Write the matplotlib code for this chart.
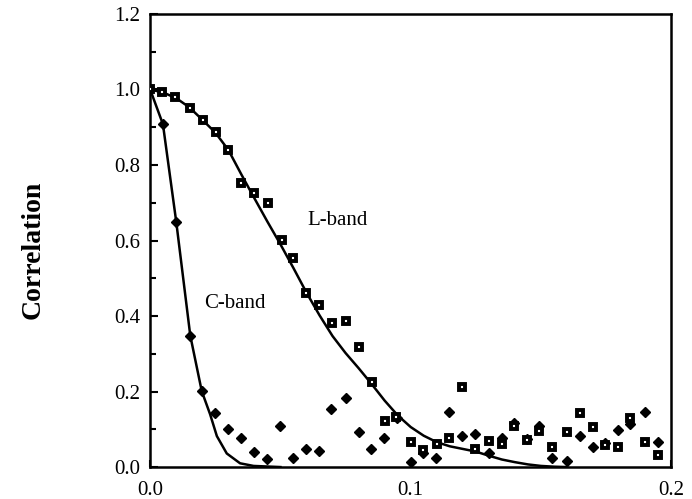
import numpy as np
import matplotlib
matplotlib.use('Agg')
import matplotlib.pyplot as plt
from matplotlib.ticker import MultipleLocator

plt.rcParams['font.family'] = ['Liberation Serif', 'DejaVu Serif']

# L-band measured correlation (squares)
l_x = [0.0, 0.0047, 0.0096, 0.0151, 0.0202, 0.0252, 0.0300, 0.0348, 0.0399, 0.0452,
       0.0505, 0.0550, 0.0598, 0.0649, 0.0697, 0.0752, 0.0800, 0.0851, 0.0900, 0.0943,
       0.1001, 0.1047, 0.1100, 0.1148, 0.1197, 0.1245, 0.1299, 0.1350, 0.1397, 0.1446,
       0.1494, 0.1544, 0.1600, 0.1648, 0.1698, 0.1747, 0.1795, 0.1843, 0.1900, 0.1949]
l_y = [1.000, 0.993, 0.981, 0.952, 0.919, 0.888, 0.841, 0.753, 0.725, 0.699,
       0.601, 0.553, 0.460, 0.429, 0.382, 0.388, 0.319, 0.226, 0.123, 0.133,
       0.067, 0.045, 0.060, 0.078, 0.211, 0.047, 0.070, 0.060, 0.109, 0.073,
       0.095, 0.052, 0.092, 0.144, 0.107, 0.058, 0.054, 0.129, 0.067, 0.032]

# C-band measured correlation (diamonds)
c_x = [0.0, 0.0049, 0.0100, 0.0154, 0.0198, 0.0250, 0.0298, 0.0348, 0.0397, 0.0450,
       0.0499, 0.0548, 0.0598, 0.0649, 0.0695, 0.0751, 0.0800, 0.0847, 0.0898, 0.0947,
       0.1001, 0.1047, 0.1098, 0.1148, 0.1197, 0.1245, 0.1299, 0.1350, 0.1397, 0.1446,
       0.1494, 0.1542, 0.1600, 0.1648, 0.1698, 0.1747, 0.1795, 0.1843, 0.1900, 0.1949]
c_y = [1.000, 0.908, 0.650, 0.348, 0.201, 0.142, 0.101, 0.076, 0.041, 0.021,
       0.109, 0.023, 0.047, 0.043, 0.153, 0.184, 0.092, 0.048, 0.076, 0.129,
       0.014, 0.037, 0.023, 0.145, 0.082, 0.087, 0.036, 0.076, 0.118, 0.075,
       0.109, 0.023, 0.017, 0.082, 0.054, 0.065, 0.098, 0.114, 0.145, 0.067]

# model curves
lc_x = [0.0, 0.005, 0.010, 0.015, 0.020, 0.025, 0.030, 0.035, 0.040, 0.045, 0.050,
        0.055, 0.060, 0.065, 0.070, 0.075, 0.080, 0.085, 0.090, 0.095, 0.100, 0.105,
        0.110, 0.115, 0.120, 0.125, 0.130, 0.135, 0.140, 0.145, 0.150, 0.155, 0.160]
lc_y = [1.000, 0.992, 0.977, 0.953, 0.920, 0.886, 0.840, 0.775, 0.712, 0.650, 0.590,
        0.527, 0.462, 0.402, 0.347, 0.302, 0.262, 0.220, 0.176, 0.137, 0.106, 0.083,
        0.066, 0.055, 0.048, 0.041, 0.030, 0.020, 0.013, 0.007, 0.003, 0.001, 0.000]
cc_x = [0.0, 0.0049, 0.0100, 0.0154, 0.0198, 0.0230, 0.0256, 0.0294, 0.0345, 0.0397, 0.0500]
cc_y = [1.000, 0.908, 0.650, 0.348, 0.201, 0.140, 0.082, 0.036, 0.010, 0.003, 0.000]

fig = plt.figure(figsize=(6.92, 4.99), dpi=100)
ax = fig.add_axes([0.217, 0.064, 0.753, 0.908])

ax.plot(lc_x, lc_y, color='black', lw=1.8, zorder=2)
ax.plot(cc_x, cc_y, color='black', lw=1.8, zorder=2)
ax.plot(c_x, c_y, linestyle='none', marker='D', ms=5.6, color='black', zorder=3)
ax.plot(l_x, l_y, linestyle='none', marker='s', ms=4.6, mfc='white', mec='black',
        mew=2.8, zorder=4)

ax.text(0.0718, 0.654, 'L-band', fontsize=15, ha='center', va='center')
ax.text(0.0326, 0.432, 'C-band', fontsize=15, ha='center', va='center')

ax.set_xlim(0, 0.2)
ax.set_ylim(0, 1.2)
ax.set_xticks([0.0, 0.1, 0.2])
ax.set_xticklabels(['0.0', '0.1', '0.2'])
ax.set_yticks(np.arange(0, 1.21, 0.2))
ax.set_yticklabels(['0.0', '0.2', '0.4', '0.6', '0.8', '1.0', '1.2'])
ax.yaxis.set_minor_locator(MultipleLocator(0.1))
ax.tick_params(axis='both', which='both', direction='in', labelsize=15, width=1.5)
ax.tick_params(axis='y', which='major', length=6, pad=7)
ax.tick_params(axis='y', which='minor', length=4)
ax.tick_params(axis='x', which='major', length=5, pad=10)
for s in ax.spines.values():
    s.set_linewidth(1.8)

fig.text(0.048, 0.499, 'Correlation', rotation=90, fontsize=20, fontweight='bold',
         ha='center', va='center')

fig.savefig('out.png', dpi=100)
